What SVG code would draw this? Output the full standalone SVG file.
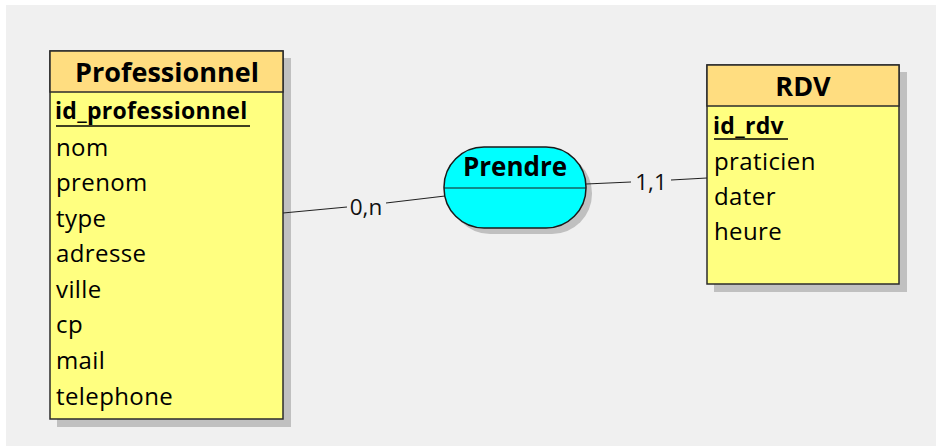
<svg xmlns="http://www.w3.org/2000/svg" width="936" height="446" viewBox="0 0 936 446">
  <style>
    .bg { fill: #f0f0f0; }
    .shadow { fill: #c0c0c0; }
    .head { fill: #ffdd80; stroke: #2b2b2b; stroke-width: 1.5; }
    .body { fill: #ffff80; stroke: #2b2b2b; stroke-width: 1.5; }
    .assoc { fill: #00ffff; stroke: #1a1a1a; stroke-width: 1.5; }
    .title { font-family: "Open Sans", "Noto Sans", sans-serif; font-weight: bold; font-size: 27px; fill: #000; text-anchor: middle; }
    .key { font-family: "Open Sans", "Noto Sans", sans-serif; font-weight: bold; font-size: 23px; letter-spacing: 0.3px; fill: #000; }
    .uline { stroke: #000; stroke-width: 1.5; }
    .attr { font-family: "Open Sans", "Noto Sans", sans-serif; font-size: 24px; letter-spacing: 0.4px; fill: #000; }
    .card { font-family: "Open Sans", "Noto Sans", sans-serif; font-size: 22.5px; fill: #111; text-anchor: middle; }
    .link { stroke: #222; stroke-width: 1.2; fill: none; }
  </style>

  <!-- canvas -->
  <rect x="0" y="0" width="936" height="446" fill="#ffffff"/>
  <rect class="bg" x="6" y="5" width="930" height="441"/>

  <!-- entity: Professionnel -->
  <g id="professionnel">
    <rect class="shadow" x="57" y="58" width="234" height="369"/>
    <rect class="body" x="50" y="51" width="233" height="368"/>
    <rect class="head" x="50" y="51" width="233" height="41"/>
    <text class="title" x="167" y="82">Professionnel</text>
    <text class="key" x="55" y="119">id_professionnel</text>
    <line class="uline" x1="56" y1="126" x2="250" y2="126"/>
    <text class="attr" x="56" y="156">nom</text>
    <text class="attr" x="56" y="191">prenom</text>
    <text class="attr" x="56" y="227">type</text>
    <text class="attr" x="56" y="262">adresse</text>
    <text class="attr" x="56" y="298">ville</text>
    <text class="attr" x="56" y="333">cp</text>
    <text class="attr" x="56" y="369">mail</text>
    <text class="attr" x="56" y="405">telephone</text>
  </g>

  <!-- association: Prendre -->
  <g id="prendre">
    <rect class="shadow" x="450" y="153" width="142" height="81" rx="40" ry="40"/>
    <rect class="assoc" x="444" y="147" width="142" height="81" rx="40" ry="40"/>
    <line x1="444" y1="188" x2="586" y2="188" stroke="#1a1a1a" stroke-width="1.2"/>
    <text class="title" x="515" y="176" style="font-size:26px">Prendre</text>
  </g>

  <!-- entity: RDV -->
  <g id="rdv">
    <rect class="shadow" x="714" y="72" width="193" height="220"/>
    <rect class="body" x="707" y="65" width="192" height="219"/>
    <rect class="head" x="707" y="65" width="192" height="41"/>
    <text class="title" x="803" y="96">RDV</text>
    <text class="key" x="713" y="134">id_rdv</text>
    <line class="uline" x1="714" y1="139" x2="788" y2="139"/>
    <text class="attr" x="714" y="170">praticien</text>
    <text class="attr" x="714" y="205">dater</text>
    <text class="attr" x="714" y="240">heure</text>
  </g>

  <!-- connectors with cardinality labels, drawn over the shadows -->
  <g id="connectors">
    <line class="link" x1="283" y1="213" x2="347" y2="207"/>
    <line class="link" x1="386" y1="203" x2="445" y2="196"/>
    <text class="card" x="366" y="215">0,n</text>
    <line class="link" x1="586" y1="184" x2="631" y2="182"/>
    <line class="link" x1="671" y1="180" x2="707" y2="178"/>
    <text class="card" x="651" y="190">1,1</text>
  </g>
</svg>
